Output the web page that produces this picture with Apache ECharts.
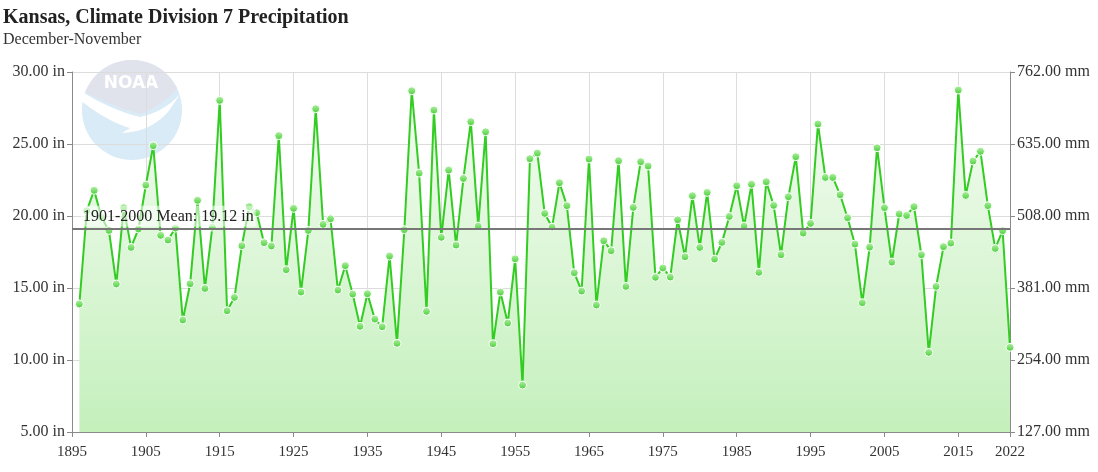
<!DOCTYPE html>
<html>
<head>
<meta charset="utf-8">
<script src="https://cdn.jsdelivr.net/npm/echarts@6/dist/echarts.min.js"></script>
<style>
  html, body { margin: 0; padding: 0; background: #fff; }
  #chart { width: 1098px; height: 472px; }
</style>
</head>
<body>
<div id="chart"></div>
<script>
// ---- data ----
const chartTitle = 'Kansas, Climate Division 7 Precipitation';
const chartSubtitle = 'December-November';
const axisStartYear = 1895;
const axisEndYear = 2022;
const firstYear = 1896;
const precipInches = [
  13.89, 20.37, 21.78, 19.9, 19.0, 15.28, 20.58, 17.82, 19.1, 22.15,
  24.88, 18.66, 18.33, 19.16, 12.78, 15.3, 21.09, 14.97, 19.23, 28.03,
  13.42, 14.35, 17.94, 20.65, 20.23, 18.15, 17.92, 25.58, 16.27, 20.53,
  14.72, 19.0, 27.45, 19.42, 19.81, 14.86, 16.55, 14.58, 12.34, 14.6,
  12.84, 12.31, 17.22, 11.16, 19.05, 28.7, 22.98, 13.38, 27.36, 18.52,
  23.19, 17.98, 22.61, 26.55, 19.3, 25.85, 11.13, 14.72, 12.57, 17.03,
  8.26, 23.98, 24.37, 20.18, 19.23, 22.31, 20.72, 16.06, 14.79, 23.96,
  13.82, 18.28, 17.59, 23.84, 15.11, 20.6, 23.77, 23.47, 15.74, 16.39,
  15.76, 19.74, 17.17, 21.41, 17.82, 21.64, 17.01, 18.17, 19.97, 22.1,
  19.3, 22.2, 16.09, 22.38, 20.74, 17.31, 21.34, 24.12, 18.82, 19.49,
  26.39, 22.68, 22.68, 21.48, 19.88, 18.05, 13.98, 17.84, 24.74, 20.58,
  16.8, 20.14, 20.04, 20.65, 17.31, 10.53, 15.11, 17.87, 18.12, 28.75,
  21.43, 23.82, 24.49, 20.72, 17.75, 18.98, 10.88
];
const meanValue = 19.12;
const meanLabel = '1901-2000 Mean: 19.12 in';
const inchTicks = { min: 5, max: 30, step: 5 };
const mmTicks = { min: 127, max: 762, step: 127 };
const yearStep = 10;

const years = precipInches.map((_, i) => firstYear + i);
// x expressed as offset from the axis start year so ticks start at 1895
const seriesData = years.map((y, i) => [y - axisStartYear, precipInches[i]]);

const serif = '"Liberation Serif", "Times New Roman", serif';
const labelColor = '#333';
const axisColor = '#8a8a8a';
const gridColor = '#dcdcdc';

// ---- decorative logo geometry helpers ----
function arcPts(cx, cy, r, a0, a1, n) {
  const pts = [];
  for (let i = 0; i <= n; i++) {
    const a = a0 + (a1 - a0) * i / n;
    pts.push([cx + r * Math.cos(a), cy + r * Math.sin(a)]);
  }
  return pts;
}
function quad(p0, p1, p2, n) {
  const pts = [];
  for (let i = 1; i <= n; i++) {
    const t = i / n;
    pts.push([
      (1 - t) * (1 - t) * p0[0] + 2 * (1 - t) * t * p1[0] + t * t * p2[0],
      (1 - t) * (1 - t) * p0[1] + 2 * (1 - t) * t * p1[1] + t * t * p2[1]
    ]);
  }
  return pts;
}
const LC = [132, 110], LR = 50;
const aL = Math.atan2(92 - 110, 85 - 132);
const aR = Math.atan2(88 - 110, 177 - 132);
const grayArc = arcPts(LC[0], LC[1], LR, aL, aR < aL ? aR + 2 * Math.PI : aR, 30);
const grayPoly = grayArc.concat(
  quad([177, 88], [165, 104], [140, 114], 10),
  quad([140, 114], [112, 106], [85, 92], 10)
);
const gullPoly = [[80, 100]].concat(
  quad([80, 100], [108, 122], [130, 128], 12),
  [[122, 133]],
  quad([122, 133], [150, 132], [168, 112], 10),
  quad([168, 112], [175, 102], [180, 94], 6),
  quad([180, 94], [164, 112], [140, 117], 10),
  quad([140, 117], [112, 110], [84, 93], 12)
);

const chart = echarts.init(document.getElementById('chart'), null, { renderer: 'canvas' });

const option = {
  animation: false,
  backgroundColor: '#ffffff',
  title: [
    { text: chartTitle, left: 3, top: 8, padding: 0,
      textStyle: { fontFamily: serif, fontSize: 20, fontWeight: 'bold', color: '#222' } },
    { text: chartSubtitle, left: 3, top: 32, padding: 0,
      textStyle: { fontFamily: serif, fontSize: 16, fontWeight: 'normal', color: '#333' } }
  ],
  graphic: [
    { type: 'circle', z: -5, shape: { cx: LC[0], cy: LC[1], r: LR },
      style: { fill: '#d9ebf6' } },
    { type: 'polygon', z: -4, shape: { points: grayPoly },
      style: { fill: '#e0e2ec' } },
    { type: 'polygon', z: -3, shape: { points: gullPoly },
      style: { fill: '#ffffff' } },
    { type: 'text', z: -2, x: 131, y: 84,
      style: { text: 'NOAA', fill: '#ffffff', font: 'bold 17px "DejaVu Sans", sans-serif',
        align: 'center', verticalAlign: 'middle' } }
  ],
  grid: { left: 72, right: 88, top: 72, bottom: 40, containLabel: false },
  xAxis: {
    type: 'value',
    min: 0,
    max: axisEndYear - axisStartYear,
    interval: yearStep,
    axisLine: { show: true, lineStyle: { color: axisColor, width: 1 } },
    axisTick: { show: true, length: 5, lineStyle: { color: axisColor } },
    axisLabel: { formatter: v => String(v + axisStartYear), color: labelColor,
      fontFamily: serif, fontSize: 15, margin: 13 },
    splitLine: { show: true, lineStyle: { color: gridColor, width: 1 } }
  },
  yAxis: [
    {
      type: 'value', position: 'left',
      min: inchTicks.min, max: inchTicks.max, interval: inchTicks.step,
      axisLine: { show: true, lineStyle: { color: axisColor, width: 1 } },
      axisTick: { show: true, length: 5, lineStyle: { color: axisColor } },
      axisLabel: { formatter: v => v.toFixed(2) + ' in', color: labelColor,
        fontFamily: serif, fontSize: 16, margin: 7 },
      splitLine: { show: true, lineStyle: { color: gridColor, width: 1 } }
    },
    {
      type: 'value', position: 'right',
      min: mmTicks.min, max: mmTicks.max, interval: mmTicks.step,
      axisLine: { show: true, lineStyle: { color: axisColor, width: 1 } },
      axisTick: { show: true, length: 5, lineStyle: { color: axisColor } },
      axisLabel: { formatter: v => v.toFixed(2) + ' mm', color: labelColor,
        fontFamily: serif, fontSize: 16, margin: 7 },
      splitLine: { show: false }
    }
  ],
  series: [
    {
      type: 'line',
      data: seriesData,
      xAxisIndex: 0,
      yAxisIndex: 0,
      symbol: 'circle',
      symbolSize: 8,
      showAllSymbol: true,
      lineStyle: { color: '#33cc22', width: 2 },
      itemStyle: {
        color: { type: 'linear', x: 0, y: 0, x2: 0, y2: 1,
          colorStops: [ { offset: 0, color: '#b6f0a8' }, { offset: 1, color: '#45cf35' } ] },
        borderColor: '#ffffff',
        borderWidth: 1
      },
      areaStyle: {
        origin: 'start',
        opacity: 1,
        color: { type: 'linear', x: 0, y: 0, x2: 0, y2: 1,
          colorStops: [ { offset: 0, color: '#f4fcf2' }, { offset: 1, color: '#c4f0bc' } ] }
      },
      markLine: {
        silent: true,
        symbol: ['none', 'none'],
        lineStyle: { color: '#777', width: 2, type: 'solid' },
        label: {
          show: true,
          position: 'insideStartTop',
          formatter: meanLabel,
          fontFamily: serif, fontSize: 16, color: '#222',
          backgroundColor: 'rgba(255,255,255,0.55)',
          padding: [3, 2, 2, 2],
          distance: [9, 2]
        },
        data: [ { yAxis: meanValue } ]
      },
      z: 3
    }
  ]
};

chart.setOption(option);
</script>
</body>
</html>
